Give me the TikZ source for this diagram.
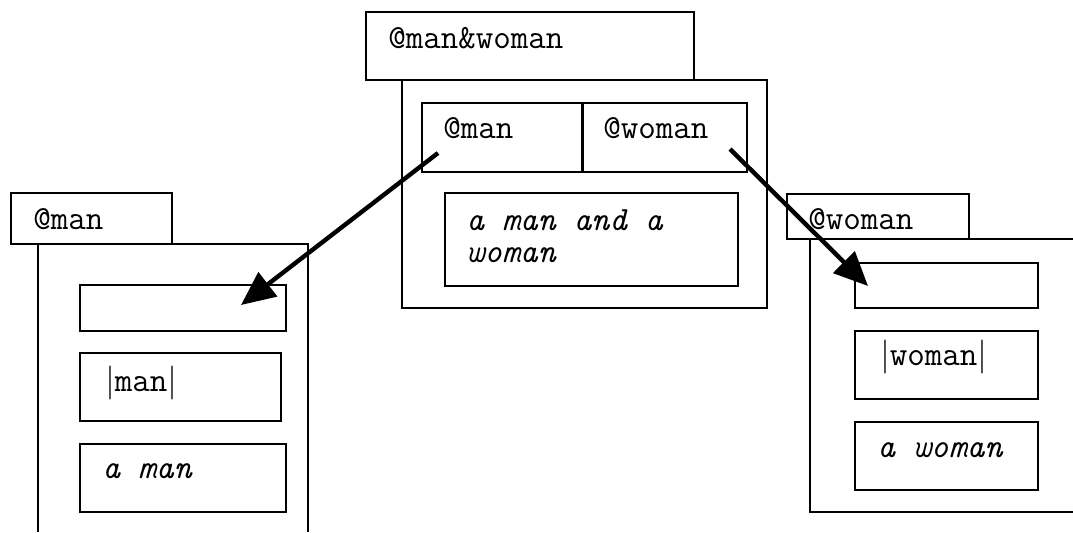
\documentclass[tikz,border=0pt]{standalone}
\usepackage{fontspec}
\usetikzlibrary{arrows.meta,fit}
\newcommand\vbar{{\rmfamily\upshape|}}
\begin{document}
\begin{tikzpicture}[x=0.5pt,y=-0.5pt,
  box/.style={draw,line width=0.75pt,inner sep=0pt},
  frame/.style={draw,line width=0.75pt},
  lbl/.style={anchor=base west,inner sep=0pt,font=\fontsize{17}{18}\selectfont\ttfamily},
  ilbl/.style={lbl,font=\fontsize{17}{18}\selectfont\ttfamily\itshape},
  ptr/.style={line width=2.2pt,-{Triangle[length=17pt,width=15pt]}}]
\useasboundingbox (0,0) rectangle (1073,532);

% ---- composite object @man&woman ----
\node[box,fit={(402,80) (767,308)}] (mwbody) {};
\node[box,fill=white,fit={(366,12) (694,80)}] (mwtitle) {};
\node[lbl] (mwname) at (388,48) {@man\&woman};
\node[box,fit={(422,103) (582,172)}] (mwman) {};
\node[box,fit={(582,103) (747,172)}] (mwwoman) {};
\draw[line width=1pt] (mwman.north east) -- (mwman.south east);
\node[lbl] (mwmanlbl) at (443,138) {@man};
\node[lbl] (mwwomanlbl) at (603,138) {@woman};
\node[box,fit={(445,193) (738,286)}] (mwdesc) {};
\node[ilbl] (mwdesc1) at (466,230) {a man and a};
\node[ilbl] (mwdesc2) at (466,262) {woman};

% ---- object @man ----
\draw[frame] (38,532) -- (38,244) -- (308,244) -- (308,532);
\node[box,fill=white,fit={(11,193) (172,244)}] (mtitle) {};
\node[lbl] (mname) at (33,229) {@man};
\node[box,fit={(80,285) (286,331)}] (mslot) {};
\node[box,fit={(80,353) (281,421)}] (mword) {};
\node[lbl] (mwordlbl) at (105,391) {\vbar man\vbar};
\node[box,fit={(80,444) (286,512)}] (mdesc) {};
\node[ilbl] (mdesclbl) at (102,478) {a man};

% ---- object @woman ----
\draw[frame] (1073,239) -- (810,239) -- (810,512) -- (1073,512);
\node[box,fill=white,fit={(787,194) (969,239)}] (wtitle) {};
\node[lbl] (wname) at (808,229) {@woman};
\node[box,fit={(855,263) (1038,308)}] (wslot) {};
\node[box,fit={(855,331) (1038,399)}] (wword) {};
\node[lbl] (wwordlbl) at (880,365) {\vbar woman\vbar};
\node[box,fit={(855,422) (1038,490)}] (wdesc) {};
\node[ilbl] (wdesclbl) at (877,457) {a woman};

% ---- references ----
\coordinate (mfrom) at (438,153);
\coordinate (mto) at (241,305);
\coordinate (wfrom) at (730,149);
\coordinate (wto) at (868,286);
\draw[ptr] (mfrom) -- (mto);
\draw[ptr] (wfrom) -- (wto);
\end{tikzpicture}
\end{document}
